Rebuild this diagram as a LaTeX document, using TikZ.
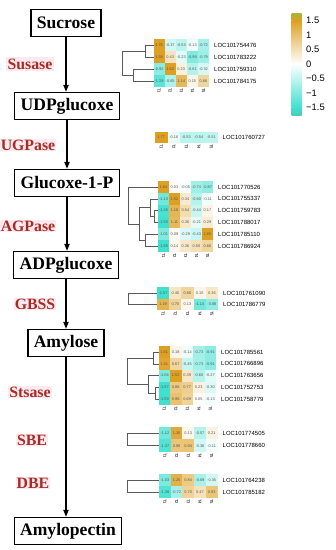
\documentclass[tikz,border=0pt]{standalone}
\usepackage{fontspec}
\setmainfont{Liberation Serif}
\setsansfont{Liberation Sans}
\usepackage{tikz}
\usetikzlibrary{arrows.meta,positioning,calc}
\definecolor{enzred}{RGB}{168,44,36}
\definecolor{enzglow}{RGB}{253,234,241}
\definecolor{hmhi}{RGB}{222,160,34}
\definecolor{hmtop}{RGB}{175,178,55}
\definecolor{hmlo}{RGB}{64,224,208}
\definecolor{treegray}{RGB}{90,90,90}
\definecolor{valgray}{RGB}{85,85,85}
\tikzset{
  metbox/.style={draw=black, line width=1.2pt, fill=white, inner xsep=5pt,
                 minimum height=23pt, font=\fontsize{15}{17}\selectfont\bfseries},
  enzlab/.style={text=enzred, fill=enzglow, inner sep=1pt,
                 font=\fontsize{13.5}{15}\selectfont\bfseries},
  patharr/.style={-{Triangle[length=6pt,width=4.5pt]}, line width=1.1pt},
  dendro/.style={treegray, line width=0.5pt},
  cellval/.style={text=valgray, inner sep=0pt, font=\sffamily\fontsize{3.3}{4}\selectfont},
  genelab/.style={anchor=west, inner sep=0pt, font=\sffamily\fontsize{5.1}{6}\selectfont},
  collab/.style={anchor=west, rotate=-90, inner sep=0pt, font=\sffamily\fontsize{3.6}{4}\selectfont},
  barlab/.style={anchor=west, inner sep=0pt, font=\sffamily\fontsize{8}{9}\selectfont},
}
\newcommand{\heatrow}[6]{%
  \foreach \val [count=\k] in {#5}{
    \pgfmathtruncatemacro{\mix}{min(100,abs(\val)/1.5*100)}
    \ifdim \val pt<0pt \def\tone{hmlo}\else \def\tone{hmhi}\fi
    \fill[fill=\tone!\mix!white] ({#1+(\k-1)*#3},{#2-#4/2}) rectangle ++(#3,#4);
    \node[cellval] (#6-\k) at ({#1+(\k-0.5)*#3},#2) {\val};
  }
  \node[genelab] (#6) at ({#1+5*#3+5},#2) {#6};
}
\newcommand{\heatcols}[4]{%
  \foreach \k in {1,...,5}{
    \node[collab] (#1-t\k) at ({#2+(\k-0.5)*#3},#4) {T\k};
  }
}
\begin{document}
\begin{tikzpicture}[x=0.03cm,y=-0.03cm]
  \useasboundingbox (0,0) rectangle (336,550);
  \node[metbox] (sucrose) at (66,23) {Sucrose};
  \node[metbox] (udpg) at (67,106) {UDPglucoxe};
  \node[metbox] (g1p) at (67,183) {Glucoxe-1-P};
  \node[metbox] (adpg) at (66,265) {ADPglucoxe};
  \node[metbox] (amylose) at (66,343) {Amylose};
  \node[metbox] (amylopectin) at (68,531) {Amylopectin};
  \draw[patharr] (sucrose.south) -- (sucrose.south |- udpg.north);
  \draw[patharr] (udpg.south) -- (udpg.south |- g1p.north);
  \draw[patharr] (g1p.south) -- (g1p.south |- adpg.north);
  \draw[patharr] (adpg.south) -- (adpg.south |- amylose.north);
  \draw[patharr] (amylose.south) -- (amylose.south |- amylopectin.north);
  \node[enzlab] (susase) at (30,64) {Susase};
  \node[enzlab] (ugpase) at (28,145) {UGPase};
  \node[enzlab] (agpase) at (28,226) {AGPase};
  \node[enzlab] (gbss) at (35,304) {GBSS};
  \node[enzlab] (stsase) at (30,392) {Stsase};
  \node[enzlab] (sbe) at (32,440) {SBE};
  \node[enzlab] (dbe) at (33,483) {DBE};
  % Susase
  \heatrow{153.5}{45}{11.1}{12}{1.76,-0.37,-0.53,-0.13,-0.72}{LOC101754476}
  \heatrow{153.5}{57}{11.1}{12}{1.58,0.43,-0.23,-0.99,-0.79}{LOC101783222}
  \heatrow{153.5}{69}{11.1}{12}{-0.92,1.62,0.23,-0.61,-0.32}{LOC101759310}
  \heatrow{153.5}{81}{11.1}{12}{-1.29,-0.65,1.14,0.15,0.66}{LOC101784175}
  \heatcols{h1}{153.5}{11.1}{88}
  \draw[dendro] (153.5,45) -- (145,45) -- (145,57) -- (153.5,57);
  \draw[dendro] (153.5,69) -- (133,69) -- (133,81) -- (153.5,81);
  \draw[dendro] (145,51) -- (122,51) -- (122,75) -- (133,75);
  % UGPase
  \heatrow{155}{137.5}{12.5}{11}{1.77,-0.16,-0.53,-0.54,-0.51}{LOC101760727}
  \heatcols{h2}{155}{12.5}{144}
  % AGPase
  \heatrow{158}{187}{11}{11.8}{1.64,0.03,-0.05,-0.74,-0.87}{LOC101770526}
  \heatrow{158}{198.8}{11}{11.8}{-1.13,1.52,0.34,-0.60,-0.11}{LOC101755337}
  \heatrow{158}{210.6}{11}{11.8}{-1.45,1.18,0.54,-0.44,0.17}{LOC101759783}
  \heatrow{158}{222.4}{11}{11.8}{-1.50,1.11,0.36,-0.21,0.29}{LOC101788017}
  \heatrow{158}{234.2}{11}{11.8}{-1.01,0.09,-0.29,-0.43,1.65}{LOC101785110}
  \heatrow{158}{246}{11}{11.8}{-1.65,0.14,0.36,0.50,0.66}{LOC101786924}
  \heatcols{h3}{158}{11}{253}
  \draw[dendro] (158,210.6) -- (154,210.6) -- (154,222.4) -- (158,222.4);
  \draw[dendro] (158,198.8) -- (150,198.8) -- (150,216.5) -- (154,216.5);
  \draw[dendro] (158,234.2) -- (145,234.2) -- (145,246) -- (158,246);
  \draw[dendro] (150,207.6) -- (139,207.6) -- (139,240.1) -- (145,240.1);
  \draw[dendro] (158,187) -- (128,187) -- (128,223.9) -- (139,223.9);
  % GBSS
  \heatrow{157}{293}{12.2}{11.5}{-1.57,0.40,0.66,0.15,0.36}{LOC101761090}
  \heatrow{157}{304.5}{12.2}{11.5}{1.19,0.70,0.13,-1.14,-0.88}{LOC101786779}
  \heatcols{h4}{157}{12.2}{311}
  \draw[dendro] (157,293) -- (128,293) -- (128,304.5) -- (157,304.5);
  % Stsase
  \heatrow{158.5}{352}{11.5}{11.8}{1.61,0.18,-0.14,-0.73,-0.91}{LOC101785561}
  \heatrow{158.5}{363.8}{11.5}{11.8}{1.41,0.67,-0.45,-0.73,-0.91}{LOC101766896}
  \heatrow{158.5}{375.6}{11.5}{11.8}{-1.04,1.52,0.39,-0.60,-0.27}{LOC101763656}
  \heatrow{158.5}{387.4}{11.5}{11.8}{-1.57,0.86,0.77,0.23,-0.30}{LOC101752753}
  \heatrow{158.5}{399.2}{11.5}{11.8}{-1.59,0.98,0.69,0.05,-0.13}{LOC101758779}
  \heatcols{h5}{158.5}{11.5}{406}
  \draw[dendro] (158.5,352) -- (153,352) -- (153,363.8) -- (158.5,363.8);
  \draw[dendro] (158.5,387.4) -- (155,387.4) -- (155,399.2) -- (158.5,399.2);
  \draw[dendro] (158.5,375.6) -- (148,375.6) -- (148,393.3) -- (155,393.3);
  \draw[dendro] (153,357.9) -- (127,357.9) -- (127,384.5) -- (148,384.5);
  % SBE
  \heatrow{159}{433}{11.7}{12.7}{-1.12,1.35,0.13,-0.57,0.21}{LOC101774505}
  \heatrow{159}{445.7}{11.7}{12.7}{-1.37,0.90,0.94,-0.36,-0.11}{LOC101778660}
  \heatcols{h6}{159}{11.7}{453}
  \draw[dendro] (159,433) -- (127,433) -- (127,445.7) -- (159,445.7);
  % DBE
  \heatrow{159}{480}{11.7}{12}{-1.03,1.25,0.84,-0.69,-0.35}{LOC101764238}
  \heatrow{159}{492}{11.7}{12}{-1.38,-0.72,0.70,0.47,0.93}{LOC101785182}
  \heatcols{h7}{159}{11.7}{499}
  \draw[dendro] (159,480) -- (127,480) -- (127,492) -- (159,492);
  % colour key
  \shade[top color=hmtop, bottom color=hmhi] (291.7,13.8) rectangle (301.7,20.5);
  \shade[top color=hmhi, bottom color=white] (291.7,20.4) rectangle (301.7,64);
  \shade[top color=white, bottom color=hmlo] (291.7,63.9) rectangle (301.7,107.8);
  \shade[top color=hmlo, bottom color=hmlo!75!gray] (291.7,107.7) rectangle (301.7,115);
  \foreach \val/\txt [count=\k] in {1.5/1.5,1/1,0.5/0.5,0/0,-0.5/−0.5,-1/−1,-1.5/−1.5}{
    \node[barlab] (key-\k) at (306,{64-29.2*\val}) {\txt};
  }
\end{tikzpicture}
\end{document}
